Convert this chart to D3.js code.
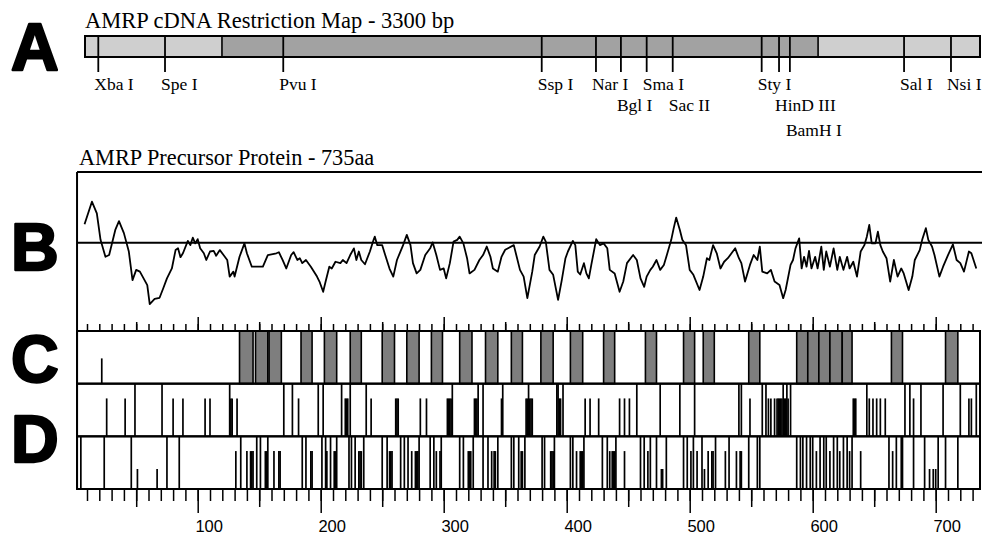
<!DOCTYPE html>
<html>
<head>
<meta charset="utf-8">
<script src="https://cdn.jsdelivr.net/npm/d3@7/dist/d3.min.js"></script>
<style>
  body { margin: 0; background: #fff; }
  svg { display: block; }
  .serif { font-family: "Liberation Serif", "Times New Roman", serif; fill: #000; }
  .big { font-family: "Liberation Sans", Arial, sans-serif; font-weight: bold; font-size: 66px; stroke: #000; stroke-width: 2.4px; stroke-linejoin: round; }
</style>
</head>
<body>
<script>
// ---- A: restriction map (positions in bp) ----
const mapLength = 3300;
const siteNames = ["Xba I", "Spe I", "Pvu I", "Ssp I", "Nar I", "Bgl I", "Sma I", "Sac II", "Sty I", "HinD III", "BamH I", "Sal I", "Nsi I"];
const sitePos   = [49, 295, 731, 1684, 1884, 1976, 2071, 2167, 2495, 2559, 2599, 3020, 3193];
const siteRow   = [0, 0, 0, 0, 0, 1, 0, 1, 0, 1, 2, 0, 0];
const regionBreaks = [0, 505, 2703, 3300];
const regionShade  = ["light", "dark", "light"];

// ---- B: hydropathy profile (residue, value) ----
const hydroPos = [
  8, 14, 18, 21, 25, 28, 33, 36, 40, 44,
  47, 50, 53, 59, 61, 65, 69, 72, 75, 79,
  82, 84, 86, 88, 92, 94, 96, 98, 100, 102,
  105, 107, 110, 113, 115, 118, 121, 124, 126, 129,
  130, 134, 138, 140, 144, 153, 157, 164, 166, 169,
  172, 176, 178, 181, 183, 185, 188, 192, 197, 199,
  202, 204, 207, 209, 212, 216, 218, 221, 224, 227,
  229, 231, 233, 236, 240, 243, 244, 246, 250, 252,
  256, 259, 262, 267, 270, 273, 275, 278, 281, 285,
  289, 291, 294, 297, 300, 302, 305, 308, 311, 313,
  316, 319, 321, 325, 329, 332, 335, 338, 340, 344,
  347, 350, 357, 359, 362, 365, 368, 372, 374, 378,
  381, 383, 386, 389, 393, 396, 399, 401, 405, 407,
  409, 411, 414, 416, 418, 420, 424, 427, 430, 433,
  435, 439, 443, 446, 449, 454, 457, 460, 463, 465,
  468, 470, 473, 476, 479, 481, 485, 487, 489, 492,
  494, 497, 500, 503, 508, 511, 514, 516, 519, 522,
  525, 528, 531, 534, 537, 540, 542, 545, 549, 552,
  555, 557, 559, 563, 566, 569, 573, 576, 578, 582,
  584, 586, 589, 591, 593, 595, 597, 599, 602, 604,
  607, 609, 611, 614, 617, 620, 622, 625, 628, 630,
  633, 636, 639, 642, 644, 646, 648, 651, 653, 655,
  657, 660, 663, 666, 669, 672, 674, 678, 681, 683,
  687, 689, 692, 694, 697, 699, 703, 706, 710, 714,
  717, 720, 723, 727, 729, 733
];
const hydroVal = [
  0.52, 1.16, 0.83, 0.08, -0.40, -0.35, 0.36, 0.61, 0.27, -0.25,
  -1.06, -0.77, -0.82, -1.20, -1.74, -1.59, -1.56, -1.29, -1.01, -0.73,
  -0.21, -0.16, -0.41, -0.30, 0.05, -0.07, 0.14, -0.02, 0.10, -0.16,
  -0.30, -0.49, -0.25, -0.23, -0.37, -0.21, -0.35, -0.49, -0.96, -0.82,
  -0.96, -0.40, -0.02, -0.30, -0.68, -0.68, -0.35, -0.30, -0.27, -0.49,
  -0.73, -0.35, -0.27, -0.49, -0.44, -0.58, -0.49, -0.68, -0.96, -1.10,
  -1.39, -1.10, -0.68, -0.73, -0.54, -0.58, -0.49, -0.58, -0.35, -0.16,
  -0.49, -0.25, -0.49, -0.61, -0.25, 0.08, 0.17, -0.07, -0.07, -0.30,
  -0.74, -0.96, -0.49, -0.07, 0.22, -0.07, -0.58, -0.87, -0.77, -0.35,
  -0.16, 0.01, -0.35, -0.77, -0.73, -1.01, -0.58, 0.03, 0.08, 0.17,
  -0.02, -0.44, -0.87, -0.77, -0.49, -0.35, -0.11, -0.40, -0.73, -0.82,
  -0.40, -0.20, -0.07, -0.35, -0.77, -0.96, -1.57, -0.82, -0.35, -0.11,
  0.17, 0.03, -0.77, -0.91, -1.62, -1.06, -0.44, -0.25, 0.05, -0.07,
  -0.82, -0.90, -0.58, -0.87, -1.01, -0.63, 0.10, -0.07, -0.02, -0.16,
  -0.77, -0.87, -1.39, -1.10, -0.58, -0.35, -0.49, -1.01, -1.25, -0.96,
  -0.77, -0.68, -0.49, -0.77, -0.63, -0.40, 0.08, 0.41, 0.71, 0.36,
  0.08, -0.07, -0.77, -0.91, -1.34, -0.96, -0.44, -0.49, -0.07, -0.30,
  -0.73, -0.54, -0.44, -0.30, -0.16, -0.44, -0.58, -1.10, -0.63, -0.35,
  -0.49, -0.11, -0.82, -0.87, -0.77, -1.10, -1.20, -1.57, -1.34, -0.63,
  -0.49, -0.16, 0.12, -0.73, -0.40, -0.68, -0.23, -0.73, -0.40, -0.73,
  -0.11, -0.77, -0.25, -0.68, -0.16, -0.77, -0.40, -0.77, -0.40, -0.73,
  -0.54, -0.96, -0.25, -0.07, 0.17, 0.50, -0.02, -0.02, 0.31, -0.07,
  -0.25, -0.44, -1.10, -0.49, -0.96, -0.73, -0.87, -1.34, -0.96, -0.49,
  -0.21, 0.08, 0.41, 0.08, -0.11, -0.35, -0.96, -0.68, -0.35, -0.05,
  -0.49, -0.58, -0.82, -0.25, -0.30, -0.73
];

// ---- C: repeat boxes and marks (residues) ----
const repeatStart = [134, 147, 158, 184, 203, 224, 250, 270, 290, 313, 334, 355, 379, 403, 430, 464, 495, 511, 548, 587, 596, 605, 614, 624, 664, 708];
const repeatEnd   = [145, 157, 168, 193, 213, 233, 260, 280, 299, 323, 344, 364, 389, 413, 439, 473, 504, 520, 557, 596, 605, 614, 624, 632, 673, 718];
const cMarks = [22];

// ---- D: site marks, two rows (residues) ----
const d1Full = [49, 71, 126, 170, 177, 198, 202, 217, 224, 237, 307, 328, 332, 348, 369, 392, 393, 397, 457, 476, 492, 504, 540, 542, 559, 562, 576, 579, 582, 644, 675, 679, 688, 706, 720, 733];
const d1Part = [26, 41, 80, 88, 106, 110, 127, 128, 132, 182, 220, 221, 222, 241, 261, 262, 263, 281, 286, 303, 304, 305, 306, 325, 326, 327, 347, 367, 368, 370, 371, 372, 394, 395, 415, 419, 426, 443, 447, 451, 549, 564, 566, 569, 571, 572, 573, 574, 575, 577, 578, 580, 633, 634, 635, 646, 649, 652, 655, 659, 682, 727, 729];
const d2Full = [5, 24, 46, 75, 85, 135, 148, 151, 157, 185, 188, 201, 204, 208, 213, 223, 225, 228, 235, 250, 254, 265, 268, 271, 280, 289, 292, 298, 313, 316, 324, 332, 336, 344, 355, 357, 361, 366, 380, 382, 390, 403, 405, 414, 429, 433, 440, 460, 463, 468, 473, 481, 495, 498, 503, 510, 521, 532, 548, 555, 557, 587, 590, 592, 595, 598, 600, 606, 609, 611, 617, 620, 625, 628, 632, 662, 668, 672, 673, 682, 691, 702, 708, 718];
const d2Part = [131, 140, 143, 144, 145, 155, 156, 162, 166, 167, 192, 193, 205, 211, 212, 231, 232, 233, 256, 257, 258, 274, 277, 278, 279, 294, 297, 320, 321, 322, 339, 341, 342, 363, 364, 387, 388, 389, 408, 411, 412, 413, 435, 437, 438, 439, 447, 466, 501, 506, 515, 518, 519, 529, 538, 541, 542, 603, 614, 622, 630, 639, 665];
const d2Short = [51, 67, 477, 478, 512, 695, 698, 700];

// ---- axis ticks ----
const minorTicks = d3.range(10, 735, 10);
const midTicks = [50, 150, 250, 350, 450, 550, 650];
const majorTicks = [100, 200, 300, 400, 500, 600, 700];

const W = 982, H = 537;
const svg = d3.select("body").append("svg").attr("width", W).attr("height", H);

// Panel letters
svg.selectAll("text.big")
  .data([["A", 70], ["B", 270], ["C", 382], ["D", 462]])
  .enter().append("text")
  .attr("class", "big")
  .attr("x", 11).attr("y", d => d[1])
  .text(d => d[0]);

// ===== A: restriction map =====
const xMap = d3.scaleLinear().domain([0, mapLength]).range([85, 980]);
const barTop = 36, barBot = 57;

svg.append("text").attr("class", "serif")
  .attr("x", 85).attr("y", 28).style("font-size", "22.5px")
  .text("AMRP cDNA Restriction Map - 3300 bp");

const shade = { light: "#cfcfcf", dark: "#a2a2a2" };
svg.selectAll("rect.region")
  .data(regionShade)
  .enter().append("rect")
  .attr("class", "region")
  .attr("x", (d, i) => xMap(regionBreaks[i]))
  .attr("width", (d, i) => xMap(regionBreaks[i + 1]) - xMap(regionBreaks[i]))
  .attr("y", barTop).attr("height", barBot - barTop)
  .attr("fill", d => shade[d]);

// region boundaries
svg.selectAll("line.bound")
  .data(regionBreaks.slice(1, -1))
  .enter().append("line")
  .attr("x1", d => xMap(d)).attr("x2", d => xMap(d))
  .attr("y1", barTop).attr("y2", barBot)
  .attr("stroke", "#000").attr("stroke-width", 1.6);

svg.append("rect")
  .attr("x", xMap(0)).attr("width", xMap(mapLength) - xMap(0))
  .attr("y", barTop).attr("height", barBot - barTop)
  .attr("fill", "none").attr("stroke", "#000").attr("stroke-width", 2);

// sites
svg.selectAll("line.site")
  .data(sitePos)
  .enter().append("line")
  .attr("x1", d => xMap(d)).attr("x2", d => xMap(d))
  .attr("y1", barTop).attr("y2", 72)
  .attr("stroke", "#000").attr("stroke-width", 1.8);

const rowBase = [90, 111, 136];
svg.selectAll("text.site")
  .data(siteNames)
  .enter().append("text")
  .attr("class", "serif")
  .attr("x", (d, i) => xMap(sitePos[i]) - 4)
  .attr("y", (d, i) => rowBase[siteRow[i]])
  .style("font-size", "17.5px")
  .text(d => d);

// ===== B: hydropathy =====
const x = d3.scaleLinear().domain([0, 735]).range([74.7, 978.75]);
const yH = d3.scaleLinear().domain([-2.5, 2]).range([331, 172]);
const left = x(1.9);

svg.append("text").attr("class", "serif")
  .attr("x", 79).attr("y", 165).style("font-size", "22.3px")
  .text("AMRP Precursor Protein - 735aa");

svg.append("line").attr("x1", left).attr("x2", W).attr("y1", yH(2)).attr("y2", yH(2))
  .attr("stroke", "#000").attr("stroke-width", 2);
svg.append("line").attr("x1", left).attr("x2", W).attr("y1", yH(0)).attr("y2", yH(0))
  .attr("stroke", "#000").attr("stroke-width", 2);

svg.append("path")
  .datum(d3.zip(hydroPos, hydroVal))
  .attr("fill", "none").attr("stroke", "#000").attr("stroke-width", 1.8)
  .attr("stroke-linejoin", "round")
  .attr("d", d3.line().x(d => x(d[0])).y(d => yH(d[1])));

// ===== C / D rows =====
const yRow = d3.scaleBand().domain(["C", "D1", "D2"]).range([331, 489]);
const bw = yRow.bandwidth();

// repeat boxes in C
svg.selectAll("rect.rep")
  .data(repeatStart)
  .enter().append("rect")
  .attr("x", d => x(d))
  .attr("width", (d, i) => x(repeatEnd[i]) - x(d))
  .attr("y", yRow("C")).attr("height", bw)
  .attr("fill", "#7e7e7e").attr("stroke", "#000").attr("stroke-width", 1.6);

function marks(list, row, frac, cls) {
  svg.selectAll("line." + cls)
    .data(list)
    .enter().append("line")
    .attr("class", cls)
    .attr("x1", d => x(d)).attr("x2", d => x(d))
    .attr("y1", yRow(row) + bw * (1 - frac))
    .attr("y2", yRow(row) + bw)
    .attr("stroke", "#000").attr("stroke-width", 1.7);
}
marks(cMarks, "C", 0.48, "cm");
marks(d1Full, "D1", 1, "d1f");
marks(d1Part, "D1", 0.72, "d1p");
marks(d2Full, "D2", 1, "d2f");
marks(d2Part, "D2", 0.72, "d2p");
marks(d2Short, "D2", 0.38, "d2s");

// row frames
svg.selectAll("rect.row")
  .data(yRow.domain())
  .enter().append("rect")
  .attr("x", left).attr("width", 980 - left)
  .attr("y", d => yRow(d)).attr("height", bw)
  .attr("fill", "none").attr("stroke", "#000").attr("stroke-width", 2);

// left frame line for B through D
svg.append("line").attr("x1", left).attr("x2", left).attr("y1", yH(2)).attr("y2", 489)
  .attr("stroke", "#000").attr("stroke-width", 2);

// ticks above C
[[minorTicks, 7], [midTicks, 9], [majorTicks, 14]].forEach(([vals, len]) => {
  svg.append("g")
    .attr("transform", "translate(0," + yRow("C") + ")")
    .call(d3.axisTop(x).tickValues(vals).tickSize(len).tickFormat(""))
    .call(g => g.select(".domain").remove())
    .call(g => g.selectAll("line").attr("stroke-width", 1.5));
});

// ticks below D
[[minorTicks, 12], [midTicks, 18]].forEach(([vals, len]) => {
  svg.append("g")
    .attr("transform", "translate(0,489)")
    .call(d3.axisBottom(x).tickValues(vals).tickSize(len).tickFormat(""))
    .call(g => g.select(".domain").remove())
    .call(g => g.selectAll("line").attr("stroke-width", 1.5));
});
svg.append("g")
  .attr("transform", "translate(0,489)")
  .call(d3.axisBottom(x).tickValues(majorTicks).tickSize(24).tickPadding(7).tickFormat(d3.format("d")))
  .call(g => g.select(".domain").remove())
  .call(g => g.selectAll("line").attr("stroke-width", 1.5))
  .call(g => g.selectAll("text")
    .attr("dx", 11)
    .style("font-family", "'Liberation Sans', Arial, sans-serif")
    .style("font-size", "16.5px"));
</script>
</body>
</html>
